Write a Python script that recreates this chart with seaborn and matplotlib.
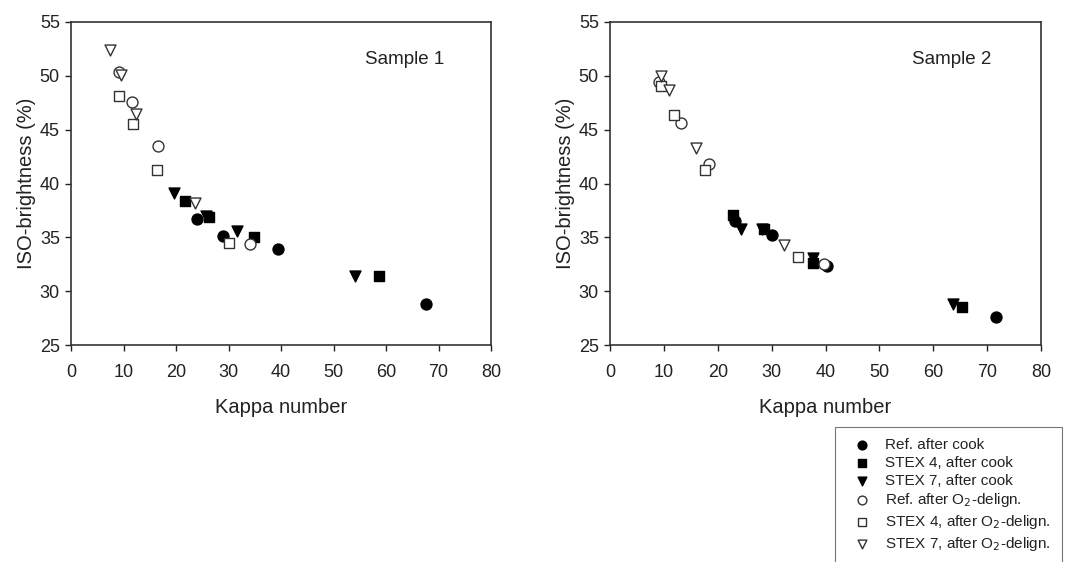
import matplotlib
matplotlib.use("Agg")
import matplotlib.pyplot as plt
import pandas as pd
import seaborn as sns

# series order and styling
series = ["Ref. after cook", "STEX 4, after cook", "STEX 7, after cook",
          "Ref. after O$_2$-delign.", "STEX 4, after O$_2$-delign.", "STEX 7, after O$_2$-delign."]
markers = ["o", "s", "v", "o", "s", "v"]
filled = [True, True, True, False, False, False]

# Sample 1 (Kappa number, ISO-brightness)
s1_kappa = [
    [24.0, 29.0, 39.4, 67.6],
    [21.8, 26.3, 34.9, 58.6],
    [19.6, 25.8, 31.7, 54.0],
    [9.1, 11.6, 16.6, 34.0],
    [9.2, 11.9, 16.3, 30.0],
    [7.4, 9.5, 12.4, 23.6],
]
s1_bright = [
    [36.7, 35.1, 33.9, 28.8],
    [38.4, 36.9, 35.0, 31.4],
    [39.1, 37.0, 35.6, 31.4],
    [50.4, 47.6, 43.5, 34.4],
    [48.1, 45.5, 41.3, 34.5],
    [52.4, 50.1, 46.5, 38.2],
]

# Sample 2
s2_kappa = [
    [23.2, 30.0, 40.2, 71.7],
    [22.9, 28.5, 37.6, 65.3],
    [24.3, 28.2, 37.6, 63.7],
    [9.1, 13.2, 18.3, 39.8],
    [9.5, 11.9, 17.7, 34.9],
    [9.5, 11.0, 16.0, 32.3],
]
s2_bright = [
    [36.5, 35.2, 32.3, 27.6],
    [37.1, 35.8, 32.6, 28.5],
    [35.8, 35.8, 33.1, 28.8],
    [49.4, 45.6, 41.8, 32.5],
    [49.1, 46.4, 41.3, 33.2],
    [50.0, 48.7, 43.3, 34.3],
]

sns.set_style("white")
plt.rcParams['font.family'] = ['Liberation Sans', 'DejaVu Sans']
txt = "#222222"

fig = plt.figure(figsize=(10.75, 5.62), dpi=100)
ax1 = fig.add_axes([71/1075, 1-345/562, 420/1075, 323/562])
ax2 = fig.add_axes([610/1075, 1-345/562, 431/1075, 323/562])

for ax, kap, bri, name in [(ax1, s1_kappa, s1_bright, "Sample 1"),
                           (ax2, s2_kappa, s2_bright, "Sample 2")]:
    for i, lab in enumerate(series):
        df = pd.DataFrame({"Kappa": kap[i], "ISO": bri[i]})
        sns.scatterplot(x="Kappa", y="ISO", data=df, ax=ax, marker=markers[i],
                        s=62, facecolor="black" if filled[i] else "white",
                        edgecolor="black" if filled[i] else "#333333",
                        linewidth=1.0, label=lab, zorder=3)
    ax.set_xlim(0, 80)
    ax.set_ylim(25, 55)
    ax.set_xticks(range(0, 81, 10))
    ax.set_yticks(range(25, 56, 5))
    ax.tick_params(axis="both", direction="out", length=4, width=1,
                   labelsize=13, colors=txt, bottom=True, left=True)
    ax.tick_params(axis="x", pad=10)
    ax.tick_params(axis="y", pad=4)
    for sp in ax.spines.values():
        sp.set_color("#333333")
        sp.set_linewidth(1.2)
    ax.set_xlabel("Kappa number", fontsize=14.5, color=txt, labelpad=12)
    ax.set_ylabel("ISO-brightness (%)", fontsize=14.5, color=txt, labelpad=3)
    ax.text(63.5, 51.5, name, fontsize=13.5, color=txt, ha="center", va="center")
    ax.get_legend().remove()

handles, labels = ax1.get_legend_handles_labels()
leg = fig.legend(handles, labels, loc="upper left", bbox_to_anchor=(835/1075, 1-427/562),
                 fontsize=11, frameon=True, fancybox=False, edgecolor="#555555",
                 handletextpad=0.55, labelspacing=0.24, borderpad=0.75, markerscale=0.8,
                 borderaxespad=0)
leg.get_frame().set_linewidth(0.8)
for t in leg.get_texts():
    t.set_color(txt)

fig.savefig("out.png", dpi=100)
